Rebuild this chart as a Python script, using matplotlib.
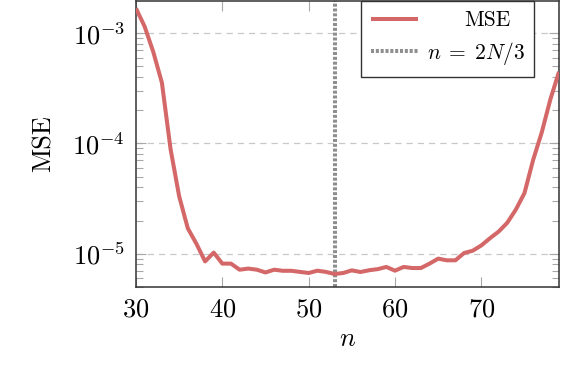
import matplotlib
matplotlib.use("Agg")
import matplotlib.pyplot as plt
import numpy as np
from matplotlib.ticker import LogLocator, NullFormatter, FixedLocator

plt.rcParams['font.family'] = 'serif'
plt.rcParams['font.serif'] = ['cmr10', 'DejaVu Serif']
plt.rcParams['mathtext.fontset'] = 'cm'
plt.rcParams['axes.unicode_minus'] = False
plt.rcParams['axes.formatter.use_mathtext'] = True

# data
n_values = list(range(30, 80))
mse_log10 = [-2.776, -2.94, -3.17, -3.45, -4.05, -4.48, -4.77, -4.91, -5.07, -4.99,
             -5.09, -5.09, -5.145, -5.135, -5.145, -5.17, -5.145, -5.155, -5.155, -5.165,
             -5.175, -5.154, -5.165, -5.184, -5.175, -5.151, -5.166, -5.15, -5.14, -5.12,
             -5.154, -5.12, -5.13, -5.13, -5.09, -5.045, -5.06, -5.06, -4.994, -4.973,
             -4.925, -4.86, -4.80, -4.72, -4.60, -4.45, -4.15, -3.90, -3.60, -3.35]
mse = [10 ** v for v in mse_log10]
n_split = 53
xticks = [30, 40, 50, 60, 70]
yticks = [1e-5, 1e-4, 1e-3]
legend_labels = ['MSE', r'$n\;=\;2N/3$']

fig = plt.figure(figsize=(5.62, 3.78), dpi=100)
ax = fig.add_axes([0.242, 0.241, 0.7527, 0.756])

line_color = '#d46868'
ax.plot(n_values, mse, color=line_color, lw=2.9, solid_joinstyle='round',
        solid_capstyle='butt', label=legend_labels[0], zorder=3)
ax.axvline(n_split, color='#8e8e8e', lw=2.9, linestyle=(0, (0.75, 0.45)),
           label=legend_labels[1], zorder=2)

ax.set_yscale('log')
ax.set_xlim(30, 79)
ax.set_ylim(5.0e-6, 1.95e-3)

ax.xaxis.set_major_locator(FixedLocator(xticks))
ax.yaxis.set_major_locator(FixedLocator(yticks))
ax.yaxis.set_minor_locator(LogLocator(base=10, subs=np.arange(2, 10), numticks=20))
ax.yaxis.set_minor_formatter(NullFormatter())
ax.xaxis.set_minor_locator(FixedLocator([]))

ax.tick_params(axis='both', which='major', direction='in', length=7.5, width=0.8,
               color='#a8a8a8', labelsize=19, top=True, right=True, pad=8)
ax.tick_params(axis='y', which='minor', direction='in', length=5, width=0.8,
               color='#a8a8a8', left=True, right=True)

ax.grid(True, axis='y', which='major', linestyle=(0, (5, 4)), color='#c8c8c8', lw=0.9)
ax.set_axisbelow(True)

for s in ax.spines.values():
    s.set_color('#333333')
    s.set_linewidth(1.1)

ax.set_xlabel(r'$n$', fontsize=19, labelpad=4)
ax.set_ylabel('MSE', fontsize=19, labelpad=12)

leg = ax.legend(loc='upper right', bbox_to_anchor=(0.942, 1.0), fontsize=15.5,
                frameon=True, fancybox=False, edgecolor='#333333', framealpha=1,
                handlelength=2.2, handletextpad=0.4, labelspacing=0.45,
                borderpad=0.45, borderaxespad=0.0)
leg.get_frame().set_linewidth(1.0)
renderer = fig.canvas.get_renderer()
widths = [t.get_window_extent(renderer).width for t in leg.get_texts()]
shift = max(widths)
for t, w in zip(leg.get_texts(), widths):
    x0, y0 = t.get_position()
    t.set_position((x0 + (shift - w) * 72.0 / fig.dpi, y0))

fig.savefig('out.png', dpi=100)
